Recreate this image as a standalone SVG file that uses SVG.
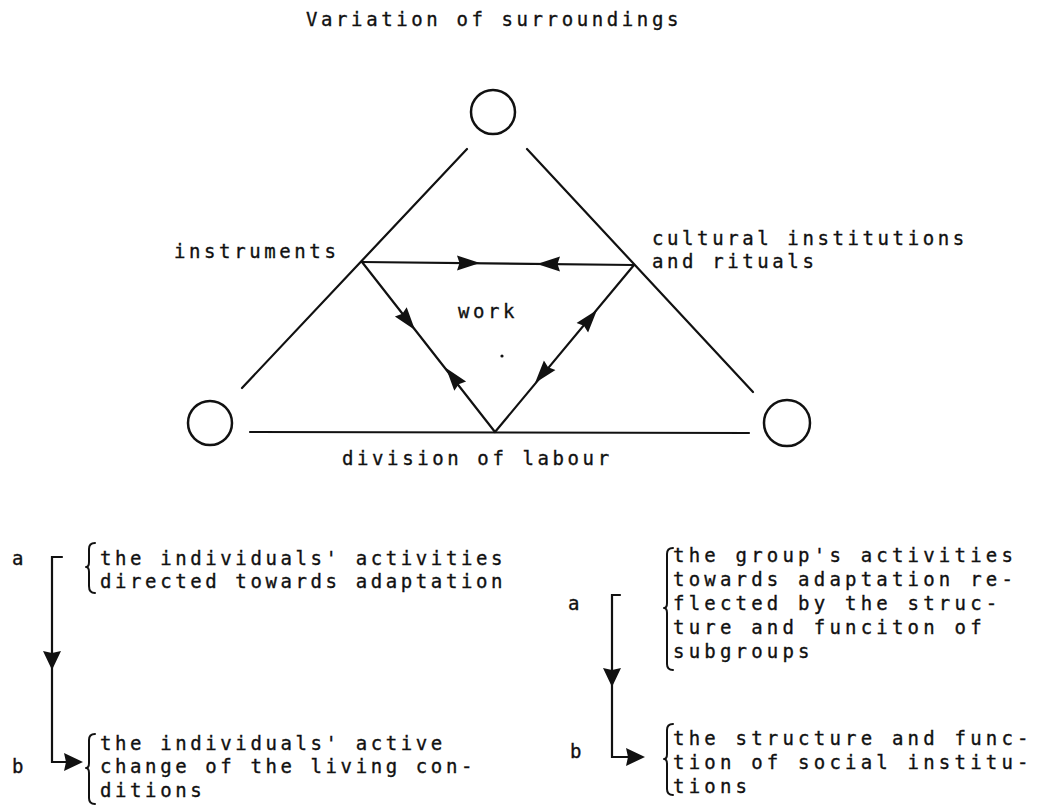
<svg xmlns="http://www.w3.org/2000/svg" width="1037" height="805" viewBox="0 0 1037 805">
<style>
  text { font-family: "DejaVu Sans Mono", "Liberation Mono", monospace; font-size: 19px; fill: #111; stroke: #111; stroke-width: 0.35px; letter-spacing: 3.6px; }
  .rb { letter-spacing: 4.2px; }
  .ln { stroke: #111; stroke-width: 2.2; fill: none; stroke-linecap: round; }
  .node { stroke: #111; stroke-width: 2.5; fill: none; }
  .ar { stroke: none; fill: none; }
  .br { stroke: #111; stroke-width: 2; fill: none; stroke-linecap: round; stroke-linejoin: round; }
</style>
<defs>
  <marker id="ah" viewBox="0 0 24 18" refX="23" refY="9" markerWidth="24" markerHeight="18" orient="auto" markerUnits="userSpaceOnUse">
    <path d="M0,1.5 L23,9 L0,16.5 L2.5,9 Z" fill="#111"/>
  </marker>
  <marker id="ahb" viewBox="0 0 20 20" refX="19" refY="10" markerWidth="20" markerHeight="20" orient="auto" markerUnits="userSpaceOnUse">
    <path d="M0,1 L19,10 L0,19 L2,10 Z" fill="#111"/>
  </marker>
</defs>
<rect width="1037" height="805" fill="#fff"/>

<g id="title"><text x="306" y="26">Variation of surroundings</text></g>

<g id="node-top"><circle class="node" cx="493" cy="112" r="22"/></g>
<g id="node-left"><circle class="node" cx="210" cy="423" r="22"/></g>
<g id="node-right"><circle class="node" cx="787" cy="423" r="23"/></g>

<g id="label-instruments"><text x="174" y="258">instruments</text></g>
<g id="label-cultural"><text x="652" y="245">cultural institutions</text><text x="652" y="268">and rituals</text></g>
<g id="label-work"><text x="458" y="318">work</text><circle cx="502" cy="356" r="1.6" fill="#111"/></g>
<g id="label-division"><text x="342" y="465">division of labour</text></g>

<g id="connectors">
  <line class="ln" x1="467" y1="149" x2="242" y2="388"/>
  <line class="ln" x1="527" y1="149" x2="753" y2="392"/>
  <line class="ln" x1="250" y1="432" x2="749" y2="433"/>
  <line class="ln" x1="362" y1="262" x2="634" y2="265"/>
  <line class="ln" x1="362" y1="262" x2="495" y2="432"/>
  <line class="ln" x1="495" y1="432" x2="634" y2="265"/>
  <path class="ar" d="M455,263 L480,263" marker-end="url(#ah)"/>
  <path class="ar" d="M560,264 L537,264" marker-end="url(#ah)"/>
  <path class="ar" d="M408.8,322.1 L415,330" marker-end="url(#ah)"/>
  <path class="ar" d="M452.2,375.9 L446,368" marker-end="url(#ah)"/>
  <path class="ar" d="M590.6,317.7 L597,310" marker-end="url(#ah)"/>
  <path class="ar" d="M541.4,375.3 L535,383" marker-end="url(#ah)"/>
  <!-- left block -->
  <path class="ln" d="M62,557 L52,557 L52,762 L66,762"/>
  <path class="ar" d="M52,650 L52,670" marker-end="url(#ahb)"/>
  <path class="ar" d="M64,762 L83,762" marker-end="url(#ahb)"/>
  <!-- right block -->
  <path class="ln" d="M620,595 L612,595 L612,757 L628,757"/>
  <path class="ar" d="M612,665 L612,687" marker-end="url(#ahb)"/>
  <path class="ar" d="M626,757 L645,757" marker-end="url(#ahb)"/>
</g>

<g id="block-left-a">
  <text x="12" y="565">a</text>
  <path class="br" d="M95,543 Q89,543 89,549 L89,562 Q89,567 86,567 Q89,567 89,572 L89,586 Q89,593 95,593"/>
  <text x="100" y="565">the individuals' activities</text>
  <text x="100" y="588">directed towards adaptation</text>
</g>
<g id="block-left-b">
  <text x="12" y="773">b</text>
  <path class="br" d="M95,734 Q89,734 89,740 L89,763 Q89,768 86,768 Q89,768 89,773 L89,798 Q89,804 95,804"/>
  <text x="100" y="750">the individuals' active</text>
  <text x="100" y="773">change of the living con-</text>
  <text x="100" y="797">ditions</text>
</g>
<g id="block-right-a">
  <text x="568" y="610">a</text>
  <path class="br" d="M673,548 Q667,548 667,554 L667,603 Q667,608 664,608 Q667,608 667,613 L667,664 Q667,670 673,670"/>
  <text class="rb" x="673" y="562">the group's activities</text>
  <text class="rb" x="673" y="586">towards adaptation re-</text>
  <text class="rb" x="673" y="610">flected by the struc-</text>
  <text class="rb" x="673" y="634">ture and funciton of</text>
  <text class="rb" x="673" y="658">subgroups</text>
</g>
<g id="block-right-b">
  <text x="570" y="758">b</text>
  <path class="br" d="M673,724 Q667,724 667,730 L667,754 Q667,759 664,759 Q667,759 667,764 L667,789 Q667,795 673,795"/>
  <text class="rb" x="673" y="745">the structure and func-</text>
  <text class="rb" x="673" y="769">tion of social institu-</text>
  <text class="rb" x="673" y="793">tions</text>
</g>
</svg>
